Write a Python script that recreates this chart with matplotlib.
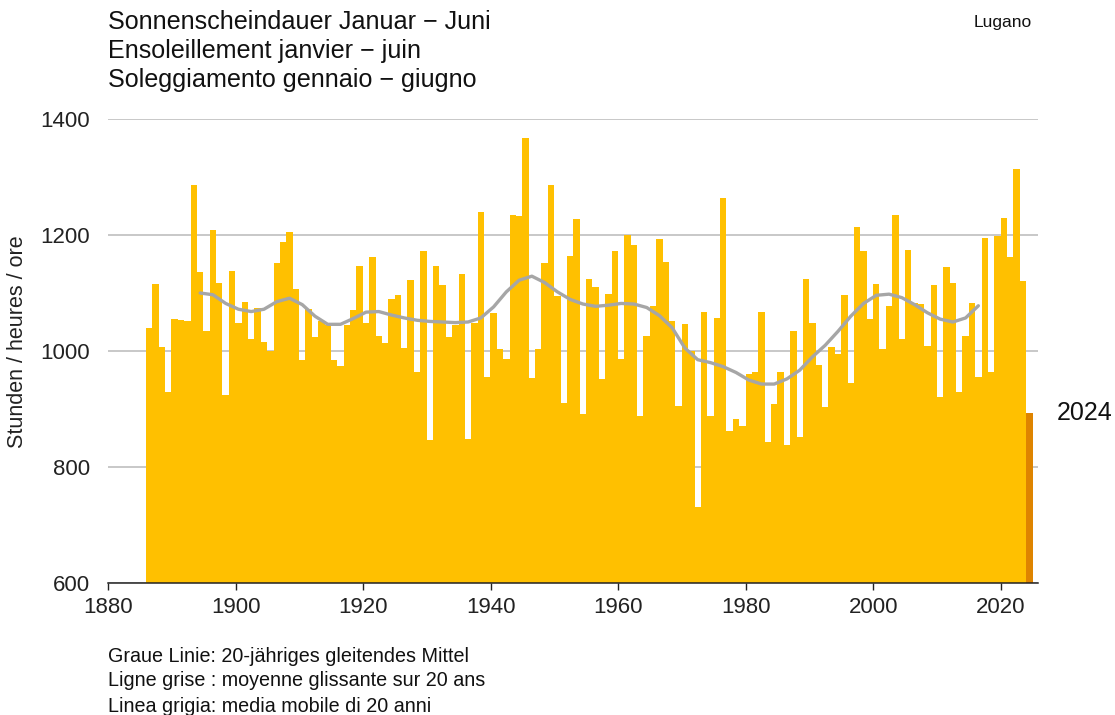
import numpy as np
import matplotlib.pyplot as plt

# Sonnenscheindauer Januar - Juni, Lugano (Stunden)
years = np.arange(1886, 2025)
sunshine = [
    1039, 1115, 1007, 929, 1055, 1053, 1052, 1287, 1136, 1034,   # 1886-1895
    1209, 1117, 925, 1138, 1048, 1084, 1021, 1075, 1016, 1000,   # 1896-1905
    1151, 1188, 1206, 1107, 985, 1073, 1024, 1052, 1045, 985,    # 1906-1915
    974, 1045, 1071, 1147, 1049, 1162, 1026, 1013, 1089, 1097,   # 1916-1925
    1006, 1122, 963, 1172, 846, 1147, 1113, 1024, 1045, 1133,    # 1926-1935
    848, 1048, 1240, 955, 1066, 1003, 987, 1235, 1233, 1368,     # 1936-1945
    953, 1003, 1151, 1287, 1094, 911, 1164, 1227, 891, 1125,     # 1946-1955
    1110, 951, 1099, 1172, 987, 1200, 1183, 888, 1026, 1078,     # 1956-1965
    1193, 1154, 1052, 906, 1047, 1000, 731, 1068, 888, 1057,     # 1966-1975
    1263, 862, 882, 870, 961, 963, 1068, 843, 909, 963,          # 1976-1985
    838, 1034, 851, 1125, 1049, 976, 903, 1007, 995, 1097,       # 1986-1995
    945, 1214, 1172, 1055, 1115, 1003, 1078, 1235, 1021, 1175,   # 1996-2005
    1082, 1081, 1008, 1113, 920, 1144, 1117, 929, 1026, 1083,    # 2006-2015
    956, 1195, 963, 1199, 1230, 1162, 1313, 1120, 893,           # 2016-2024
]

# 20-jaehriges gleitendes Mittel
mean_years = [1894, 1896, 1898, 1900, 1902, 1904, 1906, 1908, 1910, 1912,
              1914, 1916, 1918, 1920, 1922, 1924, 1926, 1928, 1930, 1932,
              1934, 1936, 1938, 1940, 1942, 1944, 1946, 1948, 1950, 1952,
              1954, 1956, 1958, 1960, 1962, 1964, 1966, 1968, 1970, 1972,
              1974, 1976, 1978, 1980, 1982, 1984, 1986, 1988, 1990, 1992,
              1994, 1996, 1998, 2000, 2002, 2004, 2006, 2008, 2010, 2012,
              2014, 2016]
mean_values = [1100, 1097, 1082, 1072, 1068, 1072, 1085, 1091, 1080, 1060,
               1046, 1046, 1056, 1067, 1068, 1062, 1057, 1053, 1051, 1050,
               1049, 1050, 1057, 1076, 1102, 1122, 1129, 1118, 1102, 1089,
               1081, 1077, 1079, 1082, 1081, 1075, 1061, 1040, 1005, 985,
               980, 973, 963, 950, 943, 943, 952, 967, 990, 1010,
               1034, 1060, 1082, 1096, 1098, 1092, 1080, 1066, 1055, 1050,
               1057, 1078]

plt.rcParams['font.family'] = ['Liberation Sans', 'DejaVu Sans']

W, H = 1115, 715
fig = plt.figure(figsize=(W / 100, H / 100), dpi=100)
ax = fig.add_axes([108 / W, 132 / H, 930 / W, 464 / H])

colors = ['#FFC000'] * (len(years) - 1) + ['#DE8400']
ax.bar(years + 0.45, sunshine, width=1.0, color=colors, linewidth=0, zorder=2)
ax.plot(np.array(mean_years) + 0.45, mean_values, color='#A6A6A6', lw=2.4,
        solid_capstyle='round', zorder=3)

ax.set_xlim(1880, 2025.8)
ax.set_ylim(600, 1400)
ax.set_xticks(np.arange(1880, 2021, 20))
ax.set_yticks([600, 800, 1000, 1200, 1400])
ax.grid(axis='y', color='#BFBFBF', lw=1.2, zorder=0)
ax.set_axisbelow(True)

for s in ['top', 'right', 'left']:
    ax.spines[s].set_visible(False)
ax.spines['bottom'].set_color('#222222')
ax.spines['bottom'].set_linewidth(1.1)
ax.spines['bottom'].set_zorder(4)

ax.tick_params(axis='y', length=0, pad=13, labelsize=16, labelcolor='#222222')
ax.tick_params(axis='x', length=5, width=1, pad=5, labelsize=16,
               color='#222222', labelcolor='#222222')

ax.text(2028.7, 893, '2024', fontsize=18, va='center', ha='left',
        color='#111111', clip_on=False)

title = ['Sonnenscheindauer Januar \u2212 Juni',
         'Ensoleillement janvier \u2212 juin',
         'Soleggiamento gennaio \u2212 giugno']
for i, t in enumerate(title):
    fig.text(108 / W, 1 - (22 + 29 * i) / H, t, fontsize=18.1, va='center',
             ha='left', color='#111111')

fig.text(1032 / W, 1 - 22 / H, 'Lugano', fontsize=12.5, va='center',
         ha='right', color='#111111')

fig.text(18 / W, 1 - 342 / H, 'Stunden / heures / ore', fontsize=15.5,
         rotation=90, va='center', ha='center', color='#222222')

footer = ['Graue Linie: 20-jähriges gleitendes Mittel',
          'Ligne grise : moyenne glissante sur 20 ans',
          'Linea grigia: media mobile di 20 anni']
for i, t in enumerate(footer):
    fig.text(108 / W, 1 - (656 + 25 * i) / H, t, fontsize=14.2, va='center',
             ha='left', color='#111111')

fig.savefig('out.png', dpi=100)
